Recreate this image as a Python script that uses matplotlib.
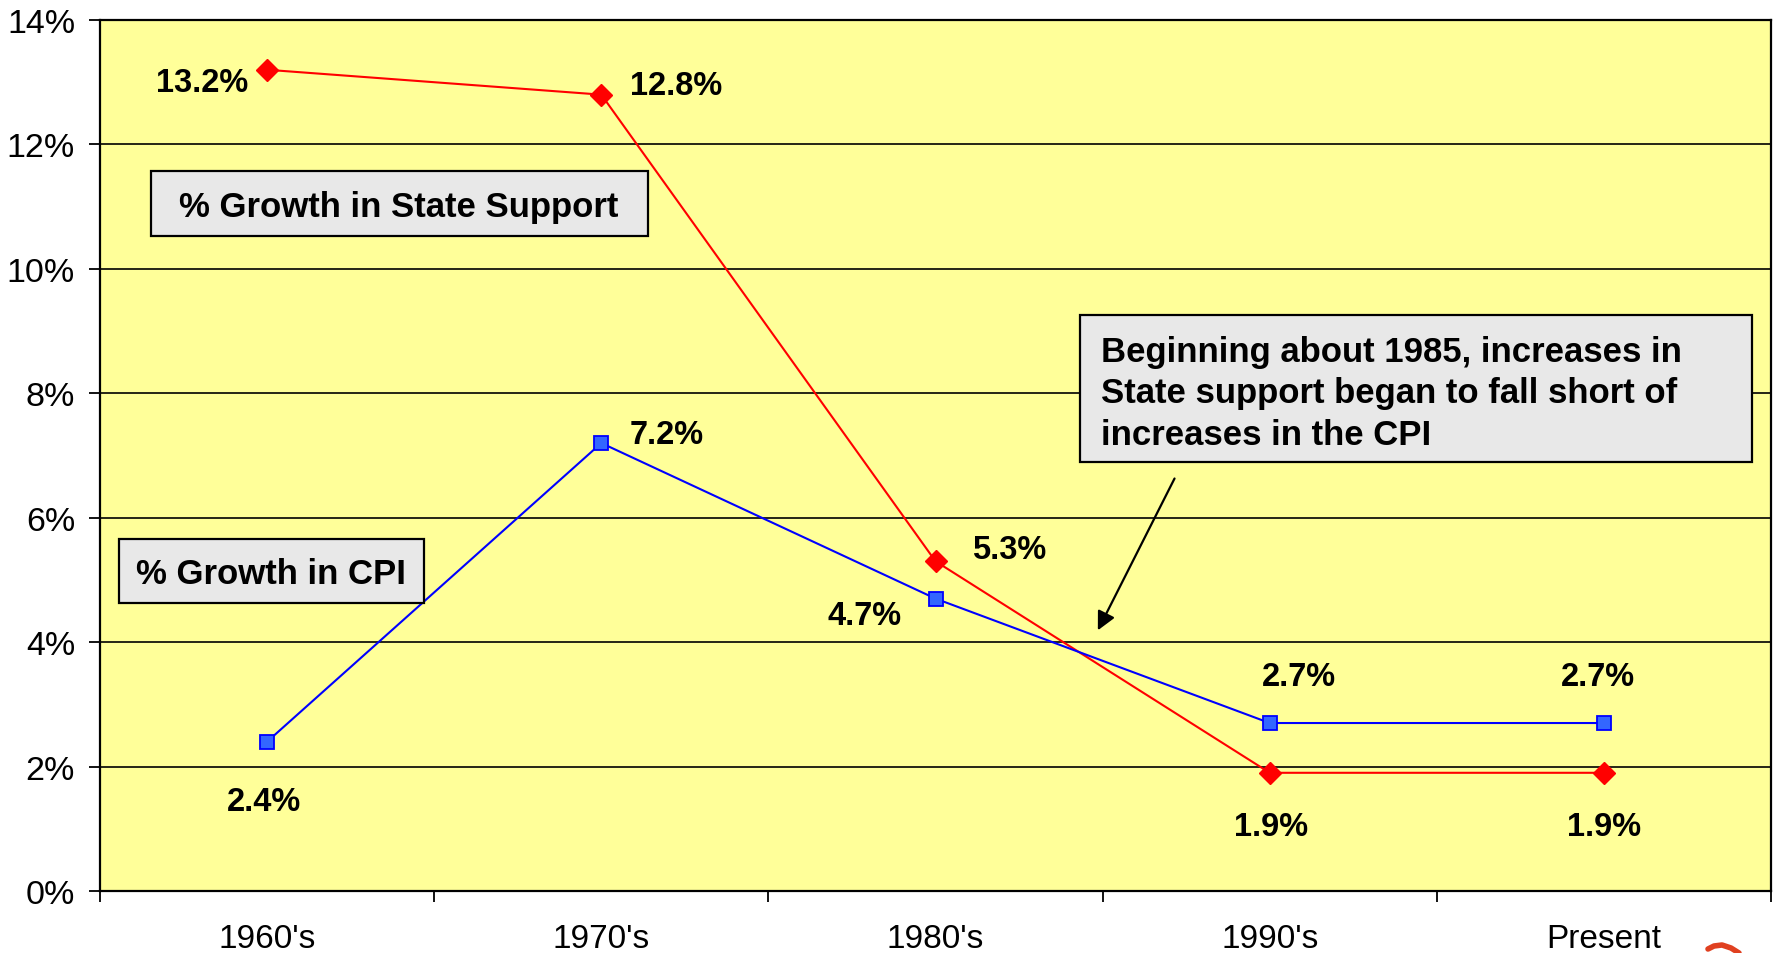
import matplotlib.pyplot as plt
from matplotlib.patches import Rectangle
from matplotlib.lines import Line2D
from matplotlib.ticker import FuncFormatter

plt.rcParams['font.family'] = ['Liberation Sans', 'DejaVu Sans']

periods = ["1960's", "1970's", "1980's", "1990's", "Present"]
state_support = [13.2, 12.8, 5.3, 1.9, 1.9]
cpi = [2.4, 7.2, 4.7, 2.7, 2.7]

# label offsets (points) relative to each marker
state_offsets = [(-47, -9), (54, 6.5), (53, 8.5), (1, -38.5), (0, -38.5)]
cpi_offsets = [(-2, -43), (47, 6.5), (-51, -12), (21, 33.5), (-4, 33.5)]

fig = plt.figure(figsize=(17.76, 9.54), dpi=100)
ax = fig.add_axes([100 / 1776, 62 / 954, 1671 / 1776, 871 / 954])
ax.set_facecolor('#FFFF99')

x = list(range(len(periods)))
ax.plot(x, state_support, color='#FF0000', lw=1.5, marker='D', ms=11,
        mfc='#FF0000', mec='#FF0000', zorder=4)
ax.plot(x, cpi, color='#0000FF', lw=1.5, marker='s', ms=10.5,
        mfc='#3366FF', mec='#0000FF', mew=1.3, zorder=4)

lbl = dict(fontsize=23.5, fontweight='bold', ha='center', va='center',
           textcoords='offset points', zorder=5)
for xi, v, off in zip(x, state_support, state_offsets):
    ax.annotate(f'{v:.1f}%', (xi, v), xytext=off, **lbl)
for xi, v, off in zip(x, cpi, cpi_offsets):
    ax.annotate(f'{v:.1f}%', (xi, v), xytext=off, **lbl)

ax.set_xlim(-0.5, 4.5)
ax.set_ylim(0, 14)
ax.set_yticks(range(0, 15, 2))
ax.yaxis.set_major_formatter(FuncFormatter(lambda v, p: f'{v:.0f}%'))
ax.grid(axis='y', color='black', lw=1.2, zorder=1)
ax.set_axisbelow(True)

# category ticks sit between the labels
ax.set_xticks([i - 0.5 for i in range(len(periods) + 1)])
ax.set_xticklabels([])
ax.set_xticks(x, minor=True)
ax.set_xticklabels(periods, minor=True)
ax.tick_params(axis='x', which='major', length=8, width=1.3, direction='out')
ax.tick_params(axis='x', which='minor', length=0, pad=23, labelsize=24)
ax.tick_params(axis='y', length=8, width=1.3, pad=10, labelsize=24.5)
for s in ax.spines.values():
    s.set_color('black')
    s.set_linewidth(1.6)

box = dict(facecolor='#E8E8E8', edgecolor='black', lw=1.6, zorder=6)
ax.add_patch(Rectangle((-0.347, 10.53), 1.488, 1.05, **box))
ax.text(0.395, 11.0, '% Growth in State Support', fontsize=25,
        fontweight='bold', ha='center', va='center', zorder=7)

ax.add_patch(Rectangle((-0.443, 4.63), 0.913, 1.03, **box))
ax.text(0.013, 5.1, '% Growth in CPI', fontsize=25,
        fontweight='bold', ha='center', va='center', zorder=7)

ax.add_patch(Rectangle((2.431, 6.897), 2.012, 2.363, **box))
ax.text(2.494, 8.01, 'Beginning about 1985, increases in\n'
        'State support began to fall short of\nincreases in the CPI',
        fontsize=25, fontweight='bold', ha='left', va='center',
        linespacing=1.33, zorder=7)

ax.annotate('', xy=(2.482, 4.15), xytext=(2.719, 6.67),
            arrowprops=dict(arrowstyle='-|>', color='black', lw=1.6,
                            mutation_scale=28), zorder=6)

# small red swoosh in the bottom corner
sx = [1708, 1714, 1722, 1731, 1739]
sy = [950, 947, 946, 949, 954]
fig.add_artist(Line2D([v / 1776 for v in sx], [1 - v / 954 for v in sy],
                      color='#E04020', lw=4, solid_capstyle='round',
                      transform=fig.transFigure))

fig.savefig('out.png', dpi=100)
